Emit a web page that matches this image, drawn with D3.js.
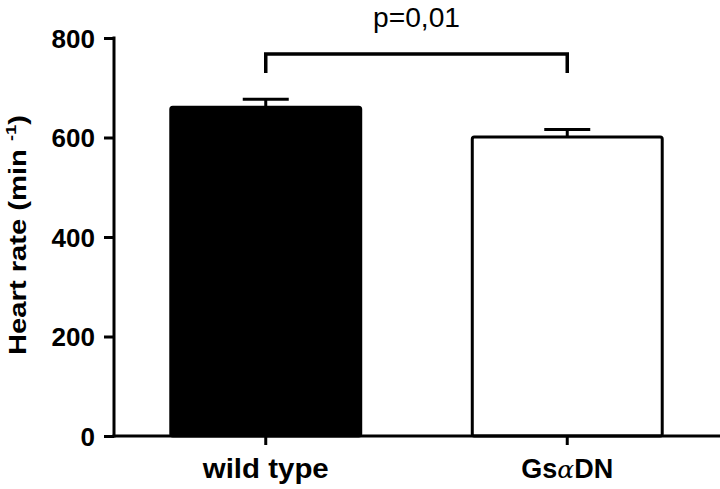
<!DOCTYPE html>
<html>
<head>
<meta charset="utf-8">
<script src="https://cdn.jsdelivr.net/npm/d3@7"></script>
<style>
  body { margin: 0; background: #fff; }
  svg text { font-family: "Liberation Sans", Arial, sans-serif; }
</style>
</head>
<body>
<div id="chart"></div>
<script>
var groups = ['wild type', 'GsαDN'];
var heartRate = [661, 601];
var sem = [16, 15];
var fills = ['#000', '#fff'];
var yTicks = [0, 200, 400, 600, 800];
var pLabel = 'p=0,01';

var width = 720;
var height = 489;

var svg = d3.select('#chart')
  .append('svg')
  .attr('width', width)
  .attr('height', height);

// scales
var y = d3.scaleLinear()
  .domain([0, 800])
  .range([436, 38]);

var x = d3.scaleBand()
  .domain(groups)
  .range([115, 718])
  .paddingInner(0.37)
  .paddingOuter(0.185);

// bars
svg.selectAll('rect.bar')
  .data(heartRate)
  .enter()
  .append('rect')
  .attr('class', 'bar')
  .attr('x', function(d, i) { return x(groups[i]); })
  .attr('y', function(d) { return y(d); })
  .attr('width', x.bandwidth())
  .attr('height', function(d) { return y(0) - y(d); })
  .attr('rx', 2)
  .attr('fill', function(d, i) { return fills[i]; })
  .attr('stroke', '#000')
  .attr('stroke-width', 3);

// error bars (upper only)
var err = svg.append('g').attr('stroke', '#000').attr('stroke-width', 3);
heartRate.forEach(function(d, i) {
  var cx = x(groups[i]) + x.bandwidth() / 2;
  err.append('line')
    .attr('x1', cx).attr('x2', cx)
    .attr('y1', y(d)).attr('y2', y(d + sem[i]));
  err.append('line')
    .attr('x1', cx - 23).attr('x2', cx + 23)
    .attr('y1', y(d + sem[i])).attr('y2', y(d + sem[i]));
});

// y axis
var yAxis = d3.axisLeft(y)
  .tickValues(yTicks)
  .tickSize(10)
  .tickPadding(9);
var gy = svg.append('g')
  .attr('transform', 'translate(114,0)')
  .call(yAxis);
gy.select('.domain').attr('stroke-width', 3).attr('d', 'M0,' + (y(0) + 1.5) + 'V' + (y(800) - 1.5));
gy.selectAll('.tick line').attr('stroke-width', 3);
gy.selectAll('.tick text')
  .attr('font-size', 26)
  .attr('font-weight', 'bold')
  .attr('font-family', '"Liberation Sans", Arial, sans-serif')
  .attr('fill', '#000')
  .attr('dy', '0.36em');

// x axis
var xAxis = d3.axisBottom(x)
  .tickSize(9)
  .tickFormat('');
var gx = svg.append('g')
  .attr('transform', 'translate(0,' + y(0) + ')')
  .call(xAxis);
gx.select('.domain').attr('stroke-width', 3).attr('d', 'M112.5,0H720');
gx.selectAll('.tick line').attr('stroke-width', 3);

// x labels
var xl = svg.append('g')
  .attr('font-size', 27)
  .attr('font-weight', 'bold')
  .attr('text-anchor', 'middle');
xl.append('text')
  .attr('x', x(groups[0]) + x.bandwidth() / 2)
  .attr('y', 478)
  .attr('textLength', 126)
  .attr('lengthAdjust', 'spacingAndGlyphs')
  .text(groups[0]);
var t2 = xl.append('text')
  .attr('x', x(groups[1]) + x.bandwidth() / 2)
  .attr('y', 478);
t2.append('tspan').text('Gs');
t2.append('tspan').attr('font-weight', 'normal').attr('font-family', '"DejaVu Serif", serif').attr('font-style', 'italic').attr('font-size', 25).text('α');
t2.append('tspan').text('DN');

// y label
var yl = svg.append('text')
  .attr('transform', 'translate(26,' + 235 + ') rotate(-90)')
  .attr('text-anchor', 'middle')
  .attr('font-size', 24)
  .attr('font-weight', 'bold')
  .attr('textLength', 240)
  .attr('lengthAdjust', 'spacingAndGlyphs');
yl.append('tspan').text('Heart rate (min ');
yl.append('tspan').attr('font-size', 15).attr('dy', -10).text('-1');
yl.append('tspan').attr('dy', 10).text(')');

// significance bracket
var c1 = x(groups[0]) + x.bandwidth() / 2;
var c2 = x(groups[1]) + x.bandwidth() / 2;
svg.append('path')
  .attr('d', 'M' + c1 + ',' + 73 + 'V' + 54 + 'H' + c2 + 'V' + 73)
  .attr('fill', 'none')
  .attr('stroke', '#000')
  .attr('stroke-width', 3.5);
svg.append('text')
  .attr('x', (c1 + c2) / 2)
  .attr('y', 27)
  .attr('text-anchor', 'middle')
  .attr('font-size', 27)
  .attr('textLength', 87)
  .attr('lengthAdjust', 'spacingAndGlyphs')
  .text(pLabel);
</script>
</body>
</html>
